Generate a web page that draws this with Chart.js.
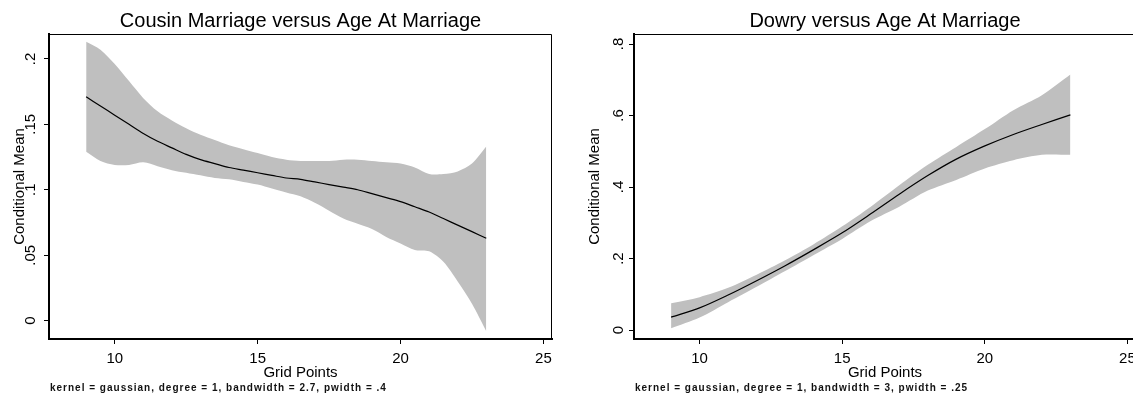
<!DOCTYPE html>
<html>
<head>
<meta charset="utf-8">
<script src="https://cdn.jsdelivr.net/npm/chart.js@4/dist/chart.umd.min.js"></script>
<style>
  html, body { margin: 0; padding: 0; background: #fff; overflow: hidden; }
  #wrap { position: relative; width: 1133px; height: 398px; overflow: hidden; }
  .box { position: absolute; top: 0; height: 398px; }
  #box-cousin { left: 0; width: 566px; }
  #box-dowry { left: 566px; width: 580px; }
</style>
</head>
<body>
<div id="wrap">
  <div class="box" id="box-cousin"><canvas id="cousinChart"></canvas></div>
  <div class="box" id="box-dowry"><canvas id="dowryChart"></canvas></div>
</div>
<script>
'use strict';

/** Data: cousin marriage */
let cousinGrid = [9, 9.5, 10, 10.5, 11, 11.5, 12, 12.5, 13, 13.5, 14, 14.5, 15, 15.5, 16, 16.5, 17, 17.5, 18, 18.5, 19, 19.5, 20, 20.5, 21, 21.5, 22, 22.5, 23];
let cousinMean = [0.171, 0.164, 0.157, 0.150, 0.143, 0.137, 0.132, 0.127, 0.123, 0.120, 0.117, 0.115, 0.113, 0.111, 0.109, 0.108, 0.106, 0.104, 0.102, 0.100, 0.097, 0.094, 0.091, 0.087, 0.083, 0.078, 0.073, 0.068, 0.063];
let cousinUpper = [0.213, 0.207, 0.196, 0.183, 0.170, 0.160, 0.153, 0.147, 0.142, 0.138, 0.134, 0.131, 0.128, 0.125, 0.123, 0.122, 0.122, 0.122, 0.123, 0.123, 0.122, 0.121, 0.120, 0.117, 0.112, 0.112, 0.114, 0.120, 0.133];
let cousinLower = [0.129, 0.122, 0.119, 0.119, 0.121, 0.118, 0.115, 0.113, 0.111, 0.109, 0.108, 0.106, 0.104, 0.101, 0.098, 0.095, 0.090, 0.084, 0.078, 0.074, 0.070, 0.064, 0.059, 0.054, 0.053, 0.045, 0.030, 0.013, -0.008];
let cousinYTicks = [0, 0.05, 0.1, 0.15, 0.2];

/** Data: dowry */
let dowryGrid = [9, 10, 11, 12, 13, 14, 15, 16, 17, 18, 19, 20, 21, 22, 23];
let dowryMean = [0.036, 0.062, 0.098, 0.138, 0.180, 0.225, 0.272, 0.325, 0.380, 0.432, 0.478, 0.515, 0.547, 0.575, 0.602];
let dowryUpper = [0.075, 0.092, 0.118, 0.155, 0.195, 0.240, 0.290, 0.345, 0.405, 0.462, 0.512, 0.562, 0.615, 0.657, 0.715];
let dowryLower = [0.005, 0.035, 0.078, 0.121, 0.165, 0.210, 0.255, 0.305, 0.345, 0.390, 0.420, 0.452, 0.475, 0.490, 0.490];
let dowryYTicks = [0, 0.2, 0.4, 0.6, 0.8];

/** Shared */
let xTicks = [10, 15, 20, 25];
let yTitle = 'Conditional Mean';
let xTitle = 'Grid Points';

let fontFamily = '"Liberation Sans", Arial, Helvetica, sans-serif';
let bandColor = '#bfbfbf';

/** Helpers */
function toPoints(xs, ys) {
  let pts = [];
  for (let i = 0; i < xs.length; i++) {
    pts.push({ x: xs[i], y: ys[i] });
  }
  return pts;
}

// Stata style: drop the leading zero (.05, .2)
function stataLabel(value) {
  if (value === 0) return '0';
  let s = String(+value.toFixed(3));
  return s.replace(/^0\./, '.');
}

// top and right frame lines + the note under the plot
let framePlugin = {
  id: 'frame',
  afterDraw(chart, args, opts) {
    let ctx = chart.ctx;
    let a = chart.chartArea;
    ctx.save();
    ctx.strokeStyle = '#000';
    ctx.lineWidth = 1;
    ctx.beginPath();
    ctx.moveTo(a.left, a.top + 0.5);
    ctx.lineTo(a.right - 0.5, a.top + 0.5);
    ctx.lineTo(a.right - 0.5, a.bottom);
    ctx.stroke();

    ctx.fillStyle = '#111';
    ctx.font = 'bold 10px ' + fontFamily;
    if ('letterSpacing' in ctx) ctx.letterSpacing = '1px';
    ctx.textAlign = 'left';
    ctx.textBaseline = 'middle';
    ctx.fillText(opts.note, a.left + 1, 388);
    ctx.restore();
  }
};

function buildChart(canvasId, cfg) {
  let ctx = document.getElementById(canvasId);
  let chartObj = {
    type: 'line',
    data: {
      datasets: [
        {
          label: 'upper',
          data: toPoints(cfg.grid, cfg.upper),
          borderWidth: 0,
          pointRadius: 0,
          backgroundColor: bandColor,
          fill: '+1',
          tension: 0.3,
          order: 2
        },
        {
          label: 'lower',
          data: toPoints(cfg.grid, cfg.lower),
          borderWidth: 0,
          pointRadius: 0,
          fill: false,
          tension: 0.3,
          order: 1
        },
        {
          label: 'mean',
          data: toPoints(cfg.grid, cfg.mean),
          borderColor: '#000',
          borderWidth: 1.2,
          pointRadius: 0,
          fill: false,
          tension: 0.3,
          order: -1
        }
      ]
    },
    options: {
      responsive: true,
      maintainAspectRatio: false,
      animation: false,
      layout: {
        padding: { left: 0, right: cfg.padRight, top: 0, bottom: 18 }
      },
      plugins: {
        legend: { display: false },
        tooltip: { enabled: false },
        title: {
          display: true,
          text: cfg.title,
          fullSize: false,
          color: '#000',
          font: { family: fontFamily, size: 20, weight: 'normal' },
          padding: { top: 9, bottom: 1 }
        },
        frame: { note: cfg.note }
      },
      scales: {
        x: {
          type: 'linear',
          min: 7.7,
          max: 25.3,
          afterBuildTicks: (scale) => {
            scale.ticks = xTicks.map(v => ({ value: v }));
          },
          afterFit: (scale) => { scale.height = 41; },
          border: { display: true, color: '#000', width: 2 },
          grid: { drawOnChartArea: false, drawTicks: true, tickLength: 5, color: '#000', tickWidth: 1 },
          ticks: {
            color: '#000',
            padding: 6,
            font: { family: fontFamily, size: 15 }
          },
          title: {
            display: true,
            text: xTitle,
            color: '#000',
            font: { family: fontFamily, size: 15 },
            padding: { top: 0, bottom: -2 }
          }
        },
        y: {
          type: 'linear',
          min: cfg.yMin,
          max: cfg.yMax,
          afterBuildTicks: (scale) => {
            scale.ticks = cfg.yTicks.map(v => ({ value: v }));
          },
          afterFit: (scale) => { scale.width = cfg.yWidth; },
          border: { display: true, color: '#000', width: 2 },
          grid: { drawOnChartArea: false, drawTicks: true, tickLength: 5, color: '#000', tickWidth: 1 },
          ticks: {
            color: '#000',
            minRotation: 90,
            maxRotation: 90,
            crossAlign: 'center',
            padding: cfg.tickPad,
            font: { family: fontFamily, size: 15 },
            callback: (value) => stataLabel(value)
          },
          title: {
            display: true,
            text: yTitle,
            color: '#000',
            font: { family: fontFamily, size: 15 },
            padding: { top: cfg.titlePad, bottom: 0 }
          }
        }
      }
    },
    plugins: [framePlugin]
  };
  return new Chart(ctx, chartObj);
}

/** Executables */
buildChart('cousinChart', {
  title: 'Cousin Marriage versus Age At Marriage',
  note: 'kernel = gaussian, degree = 1, bandwidth = 2.7, pwidth = .4',
  grid: cousinGrid,
  mean: cousinMean,
  upper: cousinUpper,
  lower: cousinLower,
  yTicks: cousinYTicks,
  yMin: -0.014,
  yMax: 0.219,
  yWidth: 49,
  tickPad: 3,
  titlePad: 11,
  padRight: 14
});

buildChart('dowryChart', {
  title: 'Dowry versus Age At Marriage',
  note: 'kernel = gaussian, degree = 1, bandwidth = 3, pwidth = .25',
  grid: dowryGrid,
  mean: dowryMean,
  upper: dowryUpper,
  lower: dowryLower,
  yTicks: dowryYTicks,
  yMin: -0.025,
  yMax: 0.828,
  yWidth: 68,
  tickPad: 4,
  titlePad: 20,
  padRight: 10
});
</script>
</body>
</html>
